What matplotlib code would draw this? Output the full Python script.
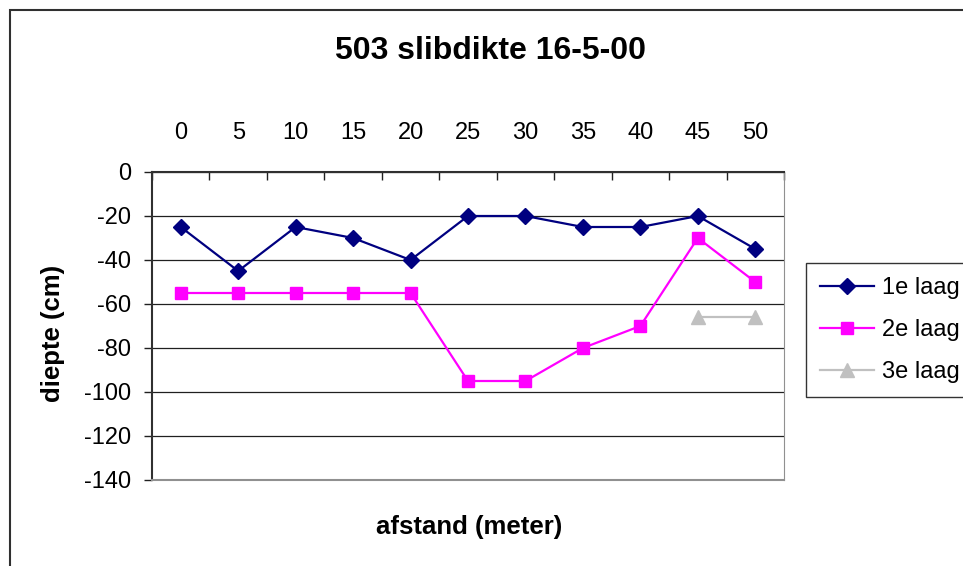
import numpy as np
import matplotlib
matplotlib.use("Agg")
import matplotlib.pyplot as plt
from matplotlib.patches import Rectangle

plt.rcParams['font.family'] = ['Liberation Sans', 'DejaVu Sans']

afstand = ["0", "5", "10", "15", "20", "25", "30", "35", "40", "45", "50"]
laag1 = [-25, -45, -25, -30, -40, -20, -20, -25, -25, -20, -35]
laag2 = [-55, -55, -55, -55, -55, -95, -95, -80, -70, -30, -50]
laag3 = [np.nan] * 9 + [-66, -66]
y_ticks = [0, -20, -40, -60, -80, -100, -120, -140]

W, H = 963, 566
fig = plt.figure(figsize=(W / 100, H / 100), dpi=100)
ax = fig.add_axes([152 / W, 1 - 480 / H, (784 - 152) / W, (480 - 172) / H])

x = np.arange(len(afstand))
ax.plot(x, laag1, color='#000080', lw=1.6, marker='D', ms=8, label='1e laag')
ax.plot(x, laag2, color='#FF00FF', lw=1.6, marker='s', ms=9, label='2e laag')
ax.plot(x, laag3, color='#C0C0C0', lw=1.6, marker='^', ms=9.5, label='3e laag')

ax.set_xlim(-0.5, len(afstand) - 0.5)
ax.set_ylim(-140, 0)

# category axis on top, labels centred, ticks between categories
ax.xaxis.tick_top()
ax.set_xticks(x)
ax.set_xticklabels(afstand, fontsize=17)
ax.set_xticks(np.arange(-0.5, len(afstand)), minor=True)
ax.tick_params(axis='x', which='major', length=0, pad=20)
ax.tick_params(axis='x', which='minor', direction='in', length=6, width=1, color='#202020')

ax.set_yticks(y_ticks)
ax.set_yticklabels([str(v) for v in y_ticks], fontsize=17)
ax.tick_params(axis='y', direction='out', length=6, width=1, color='#202020', pad=9)
ax.yaxis.grid(True, color='#202020', lw=0.9)
ax.set_axisbelow(True)

ax.spines['left'].set_color('#303030')
ax.spines['left'].set_linewidth(1.5)
ax.spines['top'].set_color('#303030')
ax.spines['top'].set_linewidth(1.5)
ax.spines['right'].set_color('#909090')
ax.spines['bottom'].set_color('#909090')
ax.spines['bottom'].set_linewidth(1.5)

fig.text(53 / W, 1 - 333 / H, 'diepte (cm)', fontsize=18.5, fontweight='bold',
         rotation=90, ha='center', va='center')
fig.text(469 / W, 1 - 527 / H, 'afstand (meter)', fontsize=18.5, fontweight='bold',
         ha='center', va='center')
fig.text(490 / W, 1 - 51 / H, '503 slibdikte 16-5-00', fontsize=23, fontweight='bold',
         ha='center', va='center')

leg = fig.legend(loc='upper left', bbox_to_anchor=(806 / W, 1 - 263 / H),
                 fontsize=17, frameon=True, fancybox=False, edgecolor='black',
                 handlelength=2.3, handletextpad=0.3, labelspacing=0.85,
                 borderpad=0.6, borderaxespad=0)
leg.get_frame().set_linewidth(1.0)

fig.add_artist(Rectangle((10 / W, -0.1), 1.2, 1 - 10 / H + 0.1, transform=fig.transFigure,
                         fill=False, edgecolor='#303030', lw=1.5))

fig.savefig('out.png', dpi=100)
